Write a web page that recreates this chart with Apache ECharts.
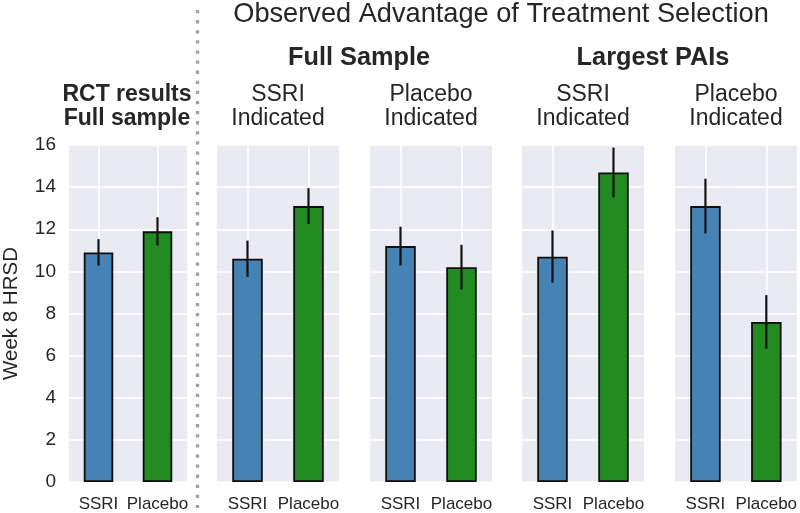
<!DOCTYPE html>
<html><head><meta charset="utf-8">
<script src="https://cdn.jsdelivr.net/npm/echarts@6/dist/echarts.min.js"></script>
<style>html,body{margin:0;padding:0;background:#fff}#c{width:800px;height:513px}</style>
</head><body><div id="c"></div>
<script>
// ---- data ----
const categories = ['SSRI', 'Placebo'];
const mainTitle = 'Observed Advantage of Treatment Selection';
const groupTitles = ['Full Sample', 'Largest PAIs'];
const panelTitles = ['RCT results\nFull sample', 'SSRI\nIndicated', 'Placebo\nIndicated', 'SSRI\nIndicated', 'Placebo\nIndicated'];
const yAxisName = 'Week 8 HRSD';
const yMin = 0, yMax = 16, yStep = 2;

const rctMeans = [10.9, 11.9];
const rctErrors = [0.63, 0.67];
const fullSsriMeans = [10.6, 13.1];
const fullSsriErrors = [0.86, 0.85];
const fullPlaceboMeans = [11.2, 10.2];
const fullPlaceboErrors = [0.92, 1.06];
const largestSsriMeans = [10.7, 14.7];
const largestSsriErrors = [1.24, 1.18];
const largestPlaceboMeans = [13.1, 7.6];
const largestPlaceboErrors = [1.30, 1.27];

const panelMeans = [rctMeans, fullSsriMeans, fullPlaceboMeans, largestSsriMeans, largestPlaceboMeans];
const panelErrors = [rctErrors, fullSsriErrors, fullPlaceboErrors, largestSsriErrors, largestPlaceboErrors];

// ---- styles / layout ----
const barColors = ['#4682B4', '#228B22'];
const txt = '#262626';
const ff = '"Liberation Sans", Arial, Helvetica, sans-serif';
const gridLefts = [65, 217, 370, 522, 675];
const gridW = 122, gridTop = 145, gridH = 338;

const grids = [], xAxes = [], yAxes = [], series = [];
gridLefts.forEach((l, i) => {
  grids.push({ left: l, top: gridTop, width: gridW, height: gridH, show: true,
    backgroundColor: '#EAEAF2', borderWidth: 0, containLabel: false });
  xAxes.push({ type: 'category', gridIndex: i, data: categories,
    axisLine: { show: false }, axisTick: { show: false, alignWithLabel: true, interval: 0 },
    axisLabel: { interval: 0, fontSize: 17, color: txt, fontFamily: ff, margin: 14 },
    splitLine: { show: true, interval: 0, alignWithLabel: true, lineStyle: { color: '#ffffff', width: 1.6 } } });
  yAxes.push({ type: 'value', gridIndex: i, min: yMin, max: yMax, interval: yStep,
    name: i === 0 ? yAxisName : '', nameLocation: 'middle', nameGap: 47,
    nameTextStyle: { fontSize: 20.5, color: txt, fontFamily: ff },
    axisLine: { show: false }, axisTick: { show: false },
    axisLabel: { show: i === 0, fontSize: 19, color: txt, fontFamily: ff, margin: 13 },
    splitLine: { show: true, lineStyle: { color: '#ffffff', width: 1.6 } } });
  series.push({ type: 'bar', xAxisIndex: i, yAxisIndex: i, barWidth: '50%', z: 3,
    data: panelMeans[i].map((v, j) => ({ value: v,
      itemStyle: { color: barColors[j], borderColor: '#0d0d0d', borderWidth: 1.8 } })) });
  series.push({ type: 'custom', xAxisIndex: i, yAxisIndex: i, z: 6,
    encode: { x: 0, y: [1, 2] },
    data: panelMeans[i].map((m, j) => [j, m - panelErrors[i][j], m + panelErrors[i][j]]),
    renderItem: (params, api) => {
      const lo = api.coord([api.value(0), api.value(1)]);
      const hi = api.coord([api.value(0), api.value(2)]);
      return { type: 'line', shape: { x1: lo[0], y1: lo[1], x2: hi[0], y2: hi[1] },
        style: { stroke: '#111', lineWidth: 2.2 } };
    } });
});

const graphic = [];
graphic.push({ type: 'text', x: 501, y: 15, style: { text: mainTitle, fill: txt,
  font: '27.2px ' + ff, align: 'center', verticalAlign: 'middle' } });
const groupCenters = [359, 653];
groupTitles.forEach((t, k) => graphic.push({ type: 'text', x: groupCenters[k], y: 58,
  style: { text: t, fill: txt, font: 'bold 25.3px ' + ff, align: 'center', verticalAlign: 'middle' } }));
panelTitles.forEach((t, i) => graphic.push({ type: 'text', x: gridLefts[i] + gridW / 2 + (i === 0 ? 1 : 0), y: 107,
  style: { text: t, fill: txt, lineHeight: 24,
    font: (i === 0 ? 'bold 23px ' : '23px ') + ff, align: 'center', verticalAlign: 'middle' } }));
graphic.push({ type: 'line', shape: { x1: 197.5, y1: 10, x2: 197.5, y2: 508 }, silent: true,
  style: { stroke: '#a0a0a0', lineWidth: 3.3, lineDash: [3.3, 6.8] } });

const chart = echarts.init(document.getElementById('c'), null, { renderer: 'canvas' });
chart.setOption({ animation: false, backgroundColor: '#ffffff', grid: grids, xAxis: xAxes, yAxis: yAxes,
  series: series, graphic: graphic });
</script></body></html>
